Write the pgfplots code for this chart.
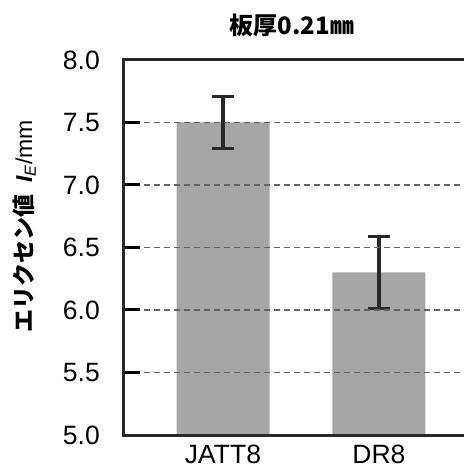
\documentclass[border=0pt]{standalone}
\usepackage{fontspec}
\usepackage{pgfplots}
\pgfplotsset{compat=1.18}
\setmainfont{Liberation Sans}
\newfontfamily\cjk{Noto Sans CJK JP}
\definecolor{barg}{RGB}{166,166,166}
\definecolor{axd}{RGB}{40,40,40}
\definecolor{gridg}{RGB}{100,100,100}
\begin{document}
\begin{tikzpicture}
\begin{axis}[
  scale only axis,
  width=342bp, height=375bp,
  xmin=-0.635, xmax=1.558,
  ymin=5, ymax=8,
  ytick={5,5.5,...,8},
  yticklabel style={/pgf/number format/fixed,/pgf/number format/fixed zerofill,/pgf/number format/precision=1, inner xsep=0pt, xshift=-24bp, font=\fontsize{26.5bp}{30bp}\selectfont},
  /pgf/number format/assume math mode=true,
  xtick={0,1}, xticklabels={JATT8,DR8},
  xticklabel style={inner ysep=0pt, yshift=-10bp, font=\fontsize{26.5bp}{30bp}\selectfont},
  xtick style={draw=none},
  ytick pos=left,
  major tick length=16bp,
  ytick style={line width=3bp, black},
  axis line style={line width=3bp, axd},
  ymajorgrids,
  grid style={gridg, line width=1.2bp, dash pattern=on 6bp off 4bp},
  axis on top,
  title={\cjk\bfseries 板厚0.21㎜},
  title style={at={(axis description cs:0.5,1)}, anchor=center, yshift=29bp, xshift=-3bp, font=\fontsize{24bp}{28bp}\selectfont},
  ylabel={{\cjk\bfseries エリクセン値}\hspace{0.5em}\textbf{\textit{I}}\textsubscript{\textit{E}}/mm},
  ylabel style={at={(axis description cs:-0.292,0.557)}, anchor=center, font=\fontsize{23bp}{26bp}\selectfont},
  clip=false,
]
\addplot[ybar, bar width=93bp, bar shift=0pt, fill=barg, draw=none,
  error bars/.cd, y dir=both, y explicit,
  error bar style={line width=3.2bp, axd},
  error mark options={rotate=90, line width=3.2bp, axd, mark size=11bp}]
  coordinates {(0,7.5) +- (0,0.205) (1,6.3) +- (0,0.29)};
\end{axis}
\pgfresetboundingbox
\path[use as bounding box] (current axis.south west) ++(-124bp,-37bp) rectangle ++(464bp,472bp);
\end{tikzpicture}
\end{document}
